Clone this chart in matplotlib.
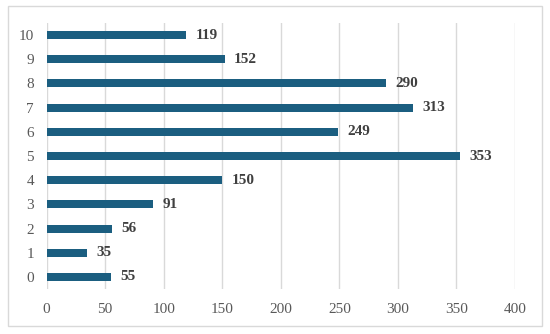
import matplotlib.pyplot as plt
from matplotlib.patches import Rectangle

categories = ['0', '1', '2', '3', '4', '5', '6', '7', '8', '9', '10']
values = [55, 35, 56, 91, 150, 353, 249, 313, 290, 152, 119]
xticks = [0, 50, 100, 150, 200, 250, 300, 350, 400]

plt.rcParams['font.family'] = ['Liberation Serif', 'DejaVu Serif']

fig = plt.figure(figsize=(5.5, 3.34), dpi=100)
# outer frame
fig.patches.append(Rectangle((8 / 550, 1 - 326 / 334), 534 / 550, 320 / 334,
                             transform=fig.transFigure, fill=False,
                             edgecolor='#d9d9d9', linewidth=1))
ax = fig.add_axes([46.5 / 550, 1 - 289 / 334, (515 - 46.5) / 550, 266 / 334])

y = range(len(categories))
ax.barh(y, values, height=0.33, color='#1b5e80', zorder=3)
for yi, v in zip(y, values):
    ax.text(v + 8, yi, str(v), va='center', ha='left', fontsize=11,
            fontweight='bold', color='#404040')

ax.set_xlim(0, 400)
ax.set_ylim(-0.5, len(categories) - 0.5)
ax.set_xticks(xticks)
ax.set_yticks(list(y))
ax.set_yticklabels(categories)
ax.xaxis.grid(True, color='#d9d9d9', linewidth=1, zorder=0)
for s in ax.spines.values():
    s.set_visible(False)
ax.tick_params(length=0, labelsize=11, labelcolor='#595959')
ax.tick_params(axis='x', pad=10)
ax.tick_params(axis='y', pad=9)

fig.savefig('out.png', dpi=100)
